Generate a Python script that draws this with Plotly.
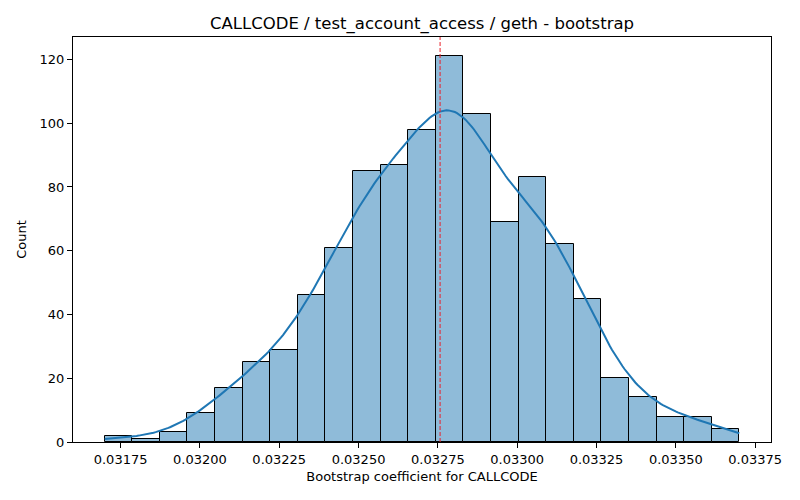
import math
import numpy as np
import plotly.graph_objects as go

# histogram of 1000 bootstrap coefficients, 23 bins over [0.0317, 0.0337]
bin_start = 0.0317
bin_end = 0.0337
counts = [2, 1, 3, 9, 17, 25, 29, 46, 61, 85, 87, 98, 121,
          103, 69, 83, 62, 45, 20, 14, 8, 8, 4]
point_estimate = 0.032757

x_ticks = [0.03175, 0.03200, 0.03225, 0.03250, 0.03275, 0.03300, 0.03325, 0.03350, 0.03375]
y_ticks = [0, 20, 40, 60, 80, 100, 120]

n_bins = len(counts)
edges = np.linspace(bin_start, bin_end, n_bins + 1)
centers = (edges[:-1] + edges[1:]) / 2
width = edges[1] - edges[0]
w = np.array(counts, dtype=float)

# gaussian kde (scott) on the binned values, values spread evenly inside each bin
# bw_adjust a bit above 1 to get closer to the smoothness of the raw-sample kde
bw_adjust = 1.15
n = w.sum()
mean = np.sum(w * centers) / n
std = np.sqrt(np.sum(w * (centers - mean) ** 2) / n + width ** 2 / 12)
bw = bw_adjust * std * n ** (-1 / 5)
phi = np.vectorize(lambda z: 0.5 * (1 + math.erf(z / math.sqrt(2))))
grid = np.linspace(bin_start, bin_end, 300)
dens = np.array([np.sum(w * (phi((g - edges[:-1]) / bw) - phi((g - edges[1:]) / bw))) for g in grid])
dens = dens / (n * width)
kde_counts = dens * n * width

fig = go.Figure()
fig.add_trace(go.Bar(
    x=centers, y=counts, width=width,
    marker=dict(color="rgba(31,119,180,0.5)", line=dict(color="black", width=1)),
    showlegend=False,
))
fig.add_trace(go.Scatter(
    x=grid, y=kde_counts, mode="lines",
    line=dict(color="#1f77b4", width=2), showlegend=False,
))
fig.add_vline(x=point_estimate, line=dict(color="#e8202a", width=1, dash="4px,2px"))

axis_style = dict(
    showline=True, linecolor="black", linewidth=1, mirror=True,
    ticks="outside", ticklen=5, tickcolor="black", showgrid=False, zeroline=False,
    tickfont=dict(family="DejaVu Sans", size=13, color="black"),
)

fig.update_layout(
    width=800, height=500,
    margin=dict(l=63, r=37, t=29, b=66),
    plot_bgcolor="white", paper_bgcolor="white",
    bargap=0,
    font=dict(family="DejaVu Sans", color="black"),
    title=dict(text="CALLCODE / test_account_access / geth - bootstrap",
               x=0.5, xref="paper", y=0.97, yanchor="middle",
               font=dict(size=16.5, color="black")),
    xaxis=dict(axis_style, range=[0.0316, 0.0338],
               tickvals=x_ticks, ticktext=[f"{v:.5f}" for v in x_ticks],
               title=dict(text="Bootstrap coefficient for CALLCODE", font=dict(size=13), standoff=6)),
    yaxis=dict(axis_style, range=[0, 127.05], tickvals=y_ticks,
               title=dict(text="Count", font=dict(size=13), standoff=10)),
)

fig.write_html("out.html")
